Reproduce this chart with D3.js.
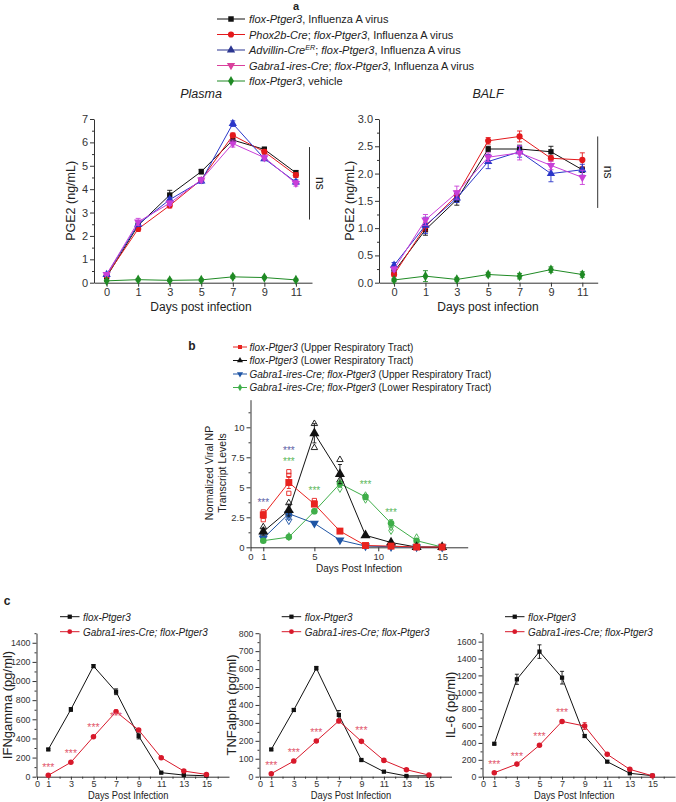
<!DOCTYPE html>
<html>
<head>
<meta charset="utf-8" />
<title>PGE2 and viral load</title>
<script src="https://cdn.jsdelivr.net/npm/d3@7"></script>
<style>
body { margin: 0; background: #fff; }
</style>
</head>
<body>
<script>

// ---------- panel a : PGE2 ----------
var aDays = ["0", "1", "3", "5", "7", "9", "11"];
var plasmaFlox    = [0.25, 2.45, 3.75, 4.75, 6.1, 5.7, 4.7];
var plasmaPhox    = [0.3, 2.3, 3.3, 4.4, 6.3, 5.6, 4.6];
var plasmaAdv     = [0.35, 2.5, 3.55, 4.35, 6.8, 5.3, 4.3];
var plasmaGabra   = [0.35, 2.6, 3.4, 4.4, 5.95, 5.35, 4.25];
var plasmaVehicle = [0.08, 0.13, 0.1, 0.12, 0.25, 0.22, 0.12];
var plasmaFloxErr    = [0.05, 0.1, 0.2, 0.1, 0.15, 0.1, 0.1];
var plasmaPhoxErr    = [0.05, 0.1, 0.1, 0.1, 0.1, 0.1, 0.1];
var plasmaAdvErr     = [0.05, 0.1, 0.1, 0.1, 0.12, 0.08, 0.1];
var plasmaGabraErr   = [0.05, 0.15, 0.1, 0.1, 0.15, 0.1, 0.12];
var plasmaVehicleErr = [0.03, 0.05, 0.05, 0.05, 0.07, 0.05, 0.04];

var balfFlox    = [0.2, 0.97, 1.52, 2.45, 2.45, 2.4, 2.07];
var balfPhox    = [0.15, 1.03, 1.6, 2.6, 2.68, 2.28, 2.25];
var balfAdv     = [0.32, 1.05, 1.55, 2.22, 2.4, 2.0, 2.07];
var balfGabra   = [0.25, 1.15, 1.65, 2.3, 2.38, 2.15, 1.93];
var balfVehicle = [0.05, 0.12, 0.06, 0.15, 0.12, 0.24, 0.15];
var balfFloxErr    = [0.03, 0.1, 0.1, 0.05, 0.07, 0.1, 0.05];
var balfPhoxErr    = [0.03, 0.08, 0.08, 0.06, 0.1, 0.05, 0.13];
var balfAdvErr     = [0.05, 0.15, 0.08, 0.13, 0.1, 0.15, 0.1];
var balfGabraErr   = [0.04, 0.1, 0.12, 0.08, 0.13, 0.08, 0.13];
var balfVehicleErr = [0.03, 0.1, 0.03, 0.04, 0.05, 0.05, 0.05];

var plasmaTicks = [0, 1, 2, 3, 4, 5, 6, 7];
var balfTicks = [0, 0.5, 1, 1.5, 2, 2.5, 3];

var aLegend = [
	[["flox-Ptger3", 1], [", Influenza A virus", 0]],
	[["Phox2b-Cre", 1], ["; ", 0], ["flox-Ptger3", 1], [", Influenza A virus", 0]],
	[["Advillin-Cre", 1], ["ER", "sup"], ["; ", 0], ["flox-Ptger3", 1], [", Influenza A virus", 0]],
	[["Gabra1-ires-Cre", 1], ["; ", 0], ["flox-Ptger3", 1], [", Influenza A virus", 0]],
	[["flox-Ptger3", 1], [", vehicle", 0]]
];

// ---------- panel b : viral NP ----------
var bDays = [1, 3, 5, 7, 9, 11, 13, 15];
var bFloxUpper  = [2.7, 5.4, 3.6, 1.35, 0.15, 0.1, 0.02, 0.02];
var bFloxLower  = [1.3, 3.1, 9.5, 6.1, 1.0, 0.4, 0.02, 0.01];
var bGabraUpper = [0.75, 2.8, 2.0, 0.6, 0.1, 0.05, 0.02, 0.01];
var bGabraLower = [0.55, 0.85, 3.0, 5.3, 4.2, 2.0, 0.55, 0.02];
var bFloxUpperErr  = [0.3, 0.5, 0.2, 0.15, 0.05, 0.03, 0, 0];
var bFloxLowerErr  = [0.3, 0.5, 0.8, 0.8, 0.1, 0.05, 0, 0];
var bGabraUpperErr = [0.15, 0.3, 0.1, 0.1, 0.03, 0.02, 0, 0];
var bGabraLowerErr = [0.1, 0.1, 0.2, 0.3, 0.2, 0.3, 0.15, 0];
// individual animals (open symbols)
var bFloxUpperPtsX  = [1, 1, 3, 3, 3, 5, 5];
var bFloxUpperPtsY  = [2.3, 2.95, 4.5, 6.0, 6.3, 3.7, 3.9];
var bFloxLowerPtsX  = [1, 3, 3, 5, 5, 7, 7];
var bFloxLowerPtsY  = [1.7, 3.7, 2.9, 8.3, 10.3, 7.3, 5.6];
var bGabraUpperPtsX = [1, 3, 3];
var bGabraUpperPtsY = [0.9, 2.2, 2.5];
var bGabraLowerPtsX = [3, 7, 9, 9, 11, 11, 13];
var bGabraLowerPtsY = [0.9, 4.9, 4.0, 4.3, 1.4, 1.7, 0.8];
var bStarsBlueX = [1, 3];
var bStarsBlueY = [3.86, 8.2];
var bStarsGreenX = [3, 5, 9, 11];
var bStarsGreenY = [7.3, 4.9, 5.33, 3.05];
var bYTicks = [0, 2.5, 5, 7.5, 10];
var bXTicks = [0, 1, 5, 10, 15];
var bLegend = [
	[["flox-Ptger3", 1], [" (Upper Respiratory Tract)", 0]],
	[["flox-Ptger3", 1], [" (Lower Respiratory Tract)", 0]],
	[["Gabra1-ires-Cre; flox-Ptger3", 1], [" (Upper Respiratory Tract)", 0]],
	[["Gabra1-ires-Cre; flox-Ptger3", 1], [" (Lower Respiratory Tract)", 0]]
];

// ---------- panel c : cytokines ----------
var cDays = [1, 3, 5, 7, 9, 11, 13, 15];
var ifnFlox  = [285, 703, 1156, 888, 425, 42, 17, 10];
var ifnGabra = [14, 150, 418, 679, 488, 199, 59, 24];
var ifnFloxErr  = [10, 20, 15, 30, 30, 5, 5, 3];
var ifnGabraErr = [5, 8, 10, 20, 15, 8, 5, 4];
var tnfFlox  = [152, 372, 605, 344, 93, 28, 4, 5];
var tnfGabra = [17, 87, 199, 311, 197, 91, 39, 9];
var tnfFloxErr  = [5, 8, 10, 25, 5, 3, 2, 2];
var tnfGabraErr = [3, 5, 5, 10, 5, 3, 3, 2];
var il6Flox  = [390, 1154, 1482, 1173, 482, 178, 40, 12];
var il6Gabra = [47, 149, 373, 655, 600, 265, 87, 10];
var il6FloxErr  = [10, 60, 80, 75, 15, 10, 5, 3];
var il6GabraErr = [5, 8, 10, 15, 40, 10, 5, 3];
var ifnStarsX = [1, 3, 5, 7], ifnStarsY = [122, 261, 530, 655];
var tnfStarsX = [1, 3, 5, 9], tnfStarsY = [75, 145, 257, 270];
var il6StarsX = [1, 3, 5, 7], il6StarsY = [166, 265, 502, 790];
var cXTicks = [0, 1, 3, 5, 7, 9, 11, 13, 15];
var cXMinor = [2, 4, 6, 8, 10, 12, 14, 16];

var svg = d3.select("body").append("svg")
	.attr("width", 676)
	.attr("height", 802)
	.style("font-family", "Arial, 'Liberation Sans', Helvetica, sans-serif");

var INK = "#222";

function txt(g, x, y, s, size, o) {
	o = o || {};
	var tr = "translate(" + x + "," + y + ")";
	if (o.rot) tr += " rotate(" + o.rot + ")";
	if (o.sx) tr += " scale(" + o.sx + ",1)";
	var t = g.append("text")
		.attr("transform", tr)
		.attr("font-size", size)
		.attr("text-anchor", o.anchor || "middle")
		.attr("fill", o.fill || INK)
		.text(s);
	if (o.italic) t.attr("font-style", "italic");
	if (o.bold) t.attr("font-weight", "bold");
	return t;
}

function rich(g, x, y, parts, size, sx) {
	var t = g.append("text")
		.attr("transform", "translate(" + x + "," + y + ")" + (sx ? " scale(" + sx + ",1)" : ""))
		.attr("font-size", size)
		.attr("fill", INK);
	var back = 0;
	parts.forEach(function(p) {
		var ts = t.append("tspan").text(p[0]);
		if (p[1] === "sup") {
			ts.attr("font-style", "italic").attr("font-size", size * 0.65).attr("dy", -size * 0.4);
			back = size * 0.4;
		} else {
			if (back) { ts.attr("dy", back); back = 0; }
			if (p[1]) ts.attr("font-style", "italic");
		}
	});
}

function yAxis(g, x, y, ticks, minor, fmt, fs, len) {
	g.append("g")
		.attr("transform", "translate(" + x + ",0)")
		.call(d3.axisLeft(y).tickValues(ticks).tickFormat(fmt).tickSize(len || 4).tickSizeOuter(0).tickPadding(2))
		.attr("font-family", null).attr("font-size", fs).attr("color", "#333");
	if (minor) {
		g.append("g")
			.attr("transform", "translate(" + x + ",0)")
			.call(d3.axisLeft(y).tickValues(minor).tickFormat("").tickSize(2).tickSizeOuter(0))
			.attr("color", "#333")
			.select(".domain").remove();
	}
}

function xAxis(g, yPos, x, ticks, minor, fmt, fs, pad, len) {
	g.append("g")
		.attr("transform", "translate(0," + yPos + ")")
		.call(d3.axisBottom(x).tickValues(ticks).tickFormat(fmt).tickSize(len || 4).tickSizeOuter(0).tickPadding(pad == null ? 2 : pad))
		.attr("font-family", null).attr("font-size", fs).attr("color", "#333");
	if (minor) {
		g.append("g")
			.attr("transform", "translate(0," + yPos + ")")
			.call(d3.axisBottom(x).tickValues(minor).tickFormat("").tickSize(2).tickSizeOuter(0))
			.attr("color", "#333")
			.select(".domain").remove();
	}
}

function marker(g, cx, cy, sym, size, color, open, flip) {
	g.append("path")
		.attr("transform", "translate(" + cx + "," + cy + ")" + (flip ? " rotate(180)" : ""))
		.attr("d", d3.symbol().type(sym).size(size))
		.attr("fill", open ? "none" : color)
		.attr("stroke", open ? color : "none")
		.attr("stroke-width", 0.9);
}

function series(g, x, y, xs, vals, errs, color, sym, size, flip, cap) {
	var pts = xs.map(function(d, i) { return { x: d, v: vals[i], e: errs ? errs[i] : 0 }; });
	g.append("path")
		.datum(pts)
		.attr("fill", "none")
		.attr("stroke", color)
		.attr("stroke-width", 1)
		.attr("d", d3.line().x(function(d) { return x(d.x); }).y(function(d) { return y(d.v); }));
	var eb = g.append("g").attr("stroke", color).attr("stroke-width", 0.9);
	cap = cap || 2.5;
	pts.forEach(function(d) {
		if (!d.e) return;
		var cx = x(d.x), y0 = y(Math.max(0, d.v - d.e)), y1 = y(d.v + d.e);
		eb.append("line").attr("x1", cx).attr("x2", cx).attr("y1", y0).attr("y2", y1);
		eb.append("line").attr("x1", cx - cap).attr("x2", cx + cap).attr("y1", y1).attr("y2", y1);
		eb.append("line").attr("x1", cx - cap).attr("x2", cx + cap).attr("y1", y0).attr("y2", y0);
	});
	pts.forEach(function(d) { marker(g, x(d.x), y(d.v), sym, size, color, false, flip); });
}

var BLACK = "#111", RED = "#e3191c", BLUE = "#2a36c9", MAG = "#c93fd8", GREEN = "#1f8a24";

// ===== panel a =====
var ga = svg.append("g");
txt(ga, 296, 10.3, "a", 11, { bold: true });

var aColors = [BLACK, RED, "#2b3590", "#d9409c", GREEN];
var aSyms = [d3.symbolSquare, d3.symbolCircle, d3.symbolTriangle, d3.symbolTriangle, d3.symbolDiamond];
var aFlip = [false, false, false, true, false];
var aRowY = d3.scaleLinear().domain([0, 4]).range([19, 81]);
aLegend.forEach(function(parts, i) {
	var yy = aRowY(i);
	ga.append("line").attr("x1", 217).attr("x2", 245).attr("y1", yy).attr("y2", yy)
		.attr("stroke", aColors[i]).attr("stroke-width", 1);
	marker(ga, 231, yy, aSyms[i], 30, aColors[i], false, aFlip[i]);
	rich(ga, 249, yy + 4, parts, 11);
});

function panelA(x, y, title, ticks, fmt, minor, sets, ns, cx, labX) {
	var g = svg.append("g");
	var idx = aDays.map(function(d, i) { return i; });
	yAxis(g, x.range()[0], y, ticks, minor, fmt, 11);
	xAxis(g, y.range()[0], x, idx, null, function(i) { return aDays[i]; }, 11);
	var cols = [BLACK, RED, BLUE, MAG, GREEN];
	sets.forEach(function(s, k) {
		series(g, x, y, idx, s[0], s[1], cols[k], aSyms[k], k === 0 ? 28 : 30, aFlip[k]);
	});
	txt(g, cx, 98, title, 12.5, { italic: true });
	txt(g, cx, 311, "Days post infection", 12);
	txt(g, labX, (y.range()[0] + y.range()[1]) / 2, "PGE2 (ng/mL)", 12.5, { rot: -90 });
	g.append("line").attr("x1", ns[0]).attr("x2", ns[0]).attr("y1", y(ns[1])).attr("y2", y(ns[2]))
		.attr("stroke", "#333").attr("stroke-width", 1);
	txt(g, ns[0] + 6, (y(ns[1]) + y(ns[2])) / 2, "ns", 12, { rot: 90 });
}

var xPlasma = d3.scaleLinear().domain([-0.4, 6.51]).range([94, 312]);
var yPlasma = d3.scaleLinear().domain([0, 7]).range([282.7, 119]);
panelA(xPlasma, yPlasma, "Plasma", plasmaTicks, d3.format("d"), d3.range(0.5, 7, 1), [
	[plasmaFlox, plasmaFloxErr], [plasmaPhox, plasmaPhoxErr], [plasmaAdv, plasmaAdvErr],
	[plasmaGabra, plasmaGabraErr], [plasmaVehicle, plasmaVehicleErr]
], [309.5, 5.8, 2.7], 201, 75);

var xBalf = d3.scaleLinear().domain([-0.48, 6.49]).range([379, 597.7]);
var yBalf = d3.scaleLinear().domain([0, 3]).range([282.7, 119]);
panelA(xBalf, yBalf, "BALF", balfTicks, d3.format(".1f"), d3.range(0.25, 3, 0.5), [
	[balfFlox, balfFloxErr], [balfPhox, balfPhoxErr], [balfAdv, balfAdvErr],
	[balfGabra, balfGabraErr], [balfVehicle, balfVehicleErr]
], [597.7, 2.68, 1.37], 488, 354);

// ===== panel b =====
var gb = svg.append("g");
txt(gb, 192, 350, "b", 12, { bold: true });
var bRed = "#e8231f", bBlack = "#111", bBlue = "#1f55a5", bGreen = "#3fae49";
var bColors = [bRed, bBlack, bBlue, bGreen];
var bSyms = [d3.symbolSquare, d3.symbolTriangle, d3.symbolTriangle, d3.symbolDiamond];
var bFlip = [false, false, true, false];
var bRowY = d3.scaleLinear().domain([0, 3]).range([347, 387.5]);
bLegend.forEach(function(parts, i) {
	var yy = bRowY(i);
	gb.append("line").attr("x1", 233).attr("x2", 247).attr("y1", yy).attr("y2", yy)
		.attr("stroke", bColors[i]).attr("stroke-width", 1);
	marker(gb, 240, yy, bSyms[i], 16, bColors[i], false, bFlip[i]);
	rich(gb, 249.5, yy + 3.5, parts, 10);
});

var xB = d3.scaleLinear().domain([0, 17]).range([250.5, 467.7]);
var yB = d3.scaleLinear().domain([0, 12.3]).range([547.3, 399.7]);
yAxis(gb, 250.5, yB, bYTicks, d3.range(1.25, 12.3, 2.5), String, 9.5, 4);
xAxis(gb, 547.3, xB, bXTicks, null, String, 9.5);

function openPts(g, xs, ys, sym, color, flip) {
	xs.forEach(function(d, i) { marker(g, xB(d), yB(ys[i]), sym, 18, color, true, flip); });
}
openPts(gb, bGabraLowerPtsX, bGabraLowerPtsY, d3.symbolDiamond, bGreen, false);
openPts(gb, bGabraUpperPtsX, bGabraUpperPtsY, d3.symbolTriangle, bBlue, true);
openPts(gb, bFloxLowerPtsX, bFloxLowerPtsY, d3.symbolTriangle, bBlack, false);
openPts(gb, bFloxUpperPtsX, bFloxUpperPtsY, d3.symbolSquare, bRed, false);

series(gb, xB, yB, bDays, bGabraUpper, bGabraUpperErr, bBlue, d3.symbolTriangle, 36, true, 2);
series(gb, xB, yB, bDays, bGabraLower, bGabraLowerErr, bGreen, d3.symbolCircle, 34, false, 2);
series(gb, xB, yB, bDays, bFloxLower, bFloxLowerErr, bBlack, d3.symbolTriangle, 44, false, 2);
series(gb, xB, yB, bDays, bFloxUpper, bFloxUpperErr, bRed, d3.symbolSquare, 48, false, 2);

bStarsBlueX.forEach(function(d, i) { txt(gb, xB(d), yB(bStarsBlueY[i]) + 5, "***", 10, { fill: "#5d5fa6" }); });
bStarsGreenX.forEach(function(d, i) { txt(gb, xB(d), yB(bStarsGreenY[i]) + 5, "***", 10, { fill: "#5cb85c" }); });

txt(gb, 359, 572, "Days Post Infection", 10);
txt(gb, 213, 473, "Normalized Viral NP", 10.5, { rot: -90 });
txt(gb, 226, 473, "Transcript Levels", 10.5, { rot: -90 });

// ===== panel c =====
var gc = svg.append("g");
txt(gc, 7, 605, "c", 12, { bold: true });
var cRed = "#d8192b", cStar = "#e25a6e";

function panelC(x0, x1, yMax, ticks, minor, flox, floxErr, gabra, gabraErr, starsX, starsY, ylab, ylabX, legX) {
	var g = svg.append("g");
	var x = d3.scaleLinear().domain([0, 17]).range([x0, x1]);
	var y = d3.scaleLinear().domain([0, yMax]).range([776.7, 633.2]);
	yAxis(g, x0 - 0.5, y, ticks, minor, String, 8.8);
	xAxis(g, 776.7, x, cXTicks, cXMinor, String, 9, 1, 3);
	series(g, x, y, cDays, flox, floxErr, BLACK, d3.symbolSquare, 18, false, 2);
	series(g, x, y, cDays, gabra, gabraErr, cRed, d3.symbolCircle, 24, false, 2);
	starsX.forEach(function(d, i) { txt(g, x(d), y(starsY[i]) + 5.5, "***", 10.5, { fill: cStar }); });
	// legend
	[[BLACK, d3.symbolSquare, [["flox-Ptger3", 1]]], [cRed, d3.symbolCircle, [["Gabra1-ires-Cre; flox-Ptger3", 1]]]].forEach(function(l, i) {
		var yy = 616.7 + i * 15;
		g.append("line").attr("x1", legX).attr("x2", legX + 19.5).attr("y1", yy).attr("y2", yy)
			.attr("stroke", l[0]).attr("stroke-width", 1);
		marker(g, legX + 9.75, yy, l[1], 18, l[0]);
		rich(g, legX + 23, yy + 4, l[2], 11, 0.9);
	});
	txt(g, (x0 + x(15.8)) / 2 + 2, 799.3, "Days Post Infection", 11, { sx: 0.85 });
	txt(g, ylabX, 705, ylab, 13, { rot: -90 });
	return y;
}

panelC(37, 229, 1500, d3.range(0, 1401, 200), d3.range(100, 1501, 200), ifnFlox, ifnFloxErr, ifnGabra, ifnGabraErr,
	ifnStarsX, ifnStarsY, "IFNgamma (pg/ml)", 11.5, 60);
panelC(260, 451.5, 800, d3.range(0, 801, 100), d3.range(50, 800, 100), tnfFlox, tnfFloxErr, tnfGabra, tnfGabraErr,
	tnfStarsX, tnfStarsY, "TNFalpha (pg/ml)", 236, 281.7);
panelC(483, 675, 1700, d3.range(0, 1601, 200), d3.range(100, 1701, 200), il6Flox, il6FloxErr, il6Gabra, il6GabraErr,
	il6StarsX, il6StarsY, "IL-6 (pg/ml)", 455, 505);

</script>
</body>
</html>
